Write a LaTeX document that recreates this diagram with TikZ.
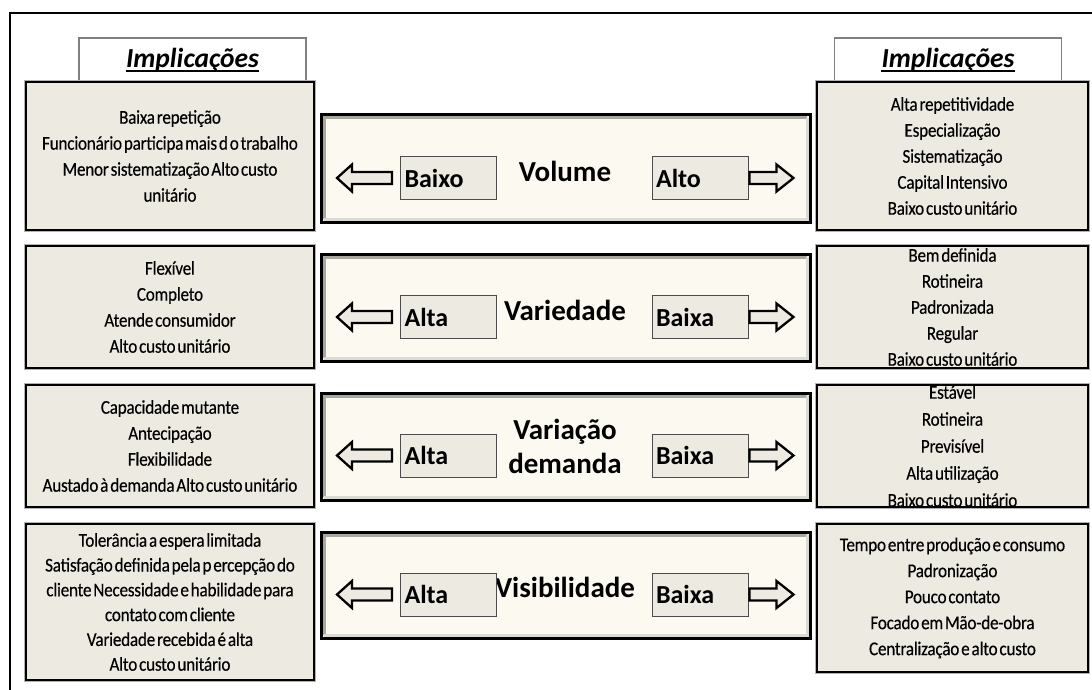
\documentclass[tikz,border=0pt]{standalone}
\usepackage{fontspec}
\setmainfont{Carlito}
\newfontfamily\bodyfont[LetterSpace=-1.2,WordSpace=0.5,FakeStretch=0.88,FakeBold=0.3]{Carlito}
\usetikzlibrary{calc}

\definecolor{sidefill}{HTML}{ECEAE1}
\definecolor{creamfill}{HTML}{FCFAF0}
\definecolor{bevdark}{HTML}{A9A8A0}
\definecolor{bevlight}{HTML}{DCDBD3}
\definecolor{hdrline}{HTML}{7F7F7F}

\tikzset{
  sidebox/.style={draw=black, line width=2.6pt, fill=sidefill,
    preaction={draw=black!30, line width=4.4pt},
    inner sep=0pt, align=center, minimum width=#1,
    font=\bodyfont\fontsize{19.5}{26}\selectfont},
  sidebox/.default=288,
  hdrbox/.style={draw=hdrline, line width=1.2pt, fill=white,
    minimum width=227, minimum height=45, inner sep=0pt},
  hdrtext/.style={inner sep=0pt, anchor=base,
    font=\fontsize{27.5}{32}\selectfont\bfseries\itshape},
  axisbox/.style={draw=black, line width=3pt, fill=creamfill,
    minimum width=489, minimum height=107, inner sep=0pt},
  axislabel/.style={inner sep=0pt, align=center,
    font=\fontsize{29}{34}\selectfont\bfseries},
  levelbox/.style={draw=black!70, line width=1pt, fill=sidefill,
    minimum height=43, text width=88, inner sep=4pt, align=left,
    font=\fontsize{26}{30}\selectfont\bfseries},
  hollow/.style={draw=black, line width=2.3pt, fill=sidefill, line join=miter}
}

\begin{document}
\begin{tikzpicture}[x=1pt,y=-1pt]
\useasboundingbox (0,0) rectangle (1092,690);

% frame around the whole chart
\draw[line width=2pt] (10,690) -- (10,13) -- (1092,13);

% column headers
\node[hdrbox] (hl) at (192.5,60.5) {};
\node[hdrbox] (hr) at (948,60.5) {};
\node[hdrtext] (hlt) at (192.5,68) {Implicações};
\node[hdrtext] (hrt) at (948,68) {Implicações};
\draw[line width=1.6pt] ([yshift=-3]hlt.base west) -- ([yshift=-3]hlt.base east);
\draw[line width=1.6pt] ([yshift=-3]hrt.base west) -- ([yshift=-3]hrt.base east);

% implications on the left (low end of each dimension)
\node[sidebox, minimum height=148] (L1) at (170,156) {Baixa repetição\\
  Funcionário participa mais d o trabalho\\
  Menor sistematização Alto custo\\ unitário};
\node[sidebox, minimum height=122] (L2) at (170,307) {Flexível\\ Completo\\
  Atende consumidor\\ Alto custo unitário};
\node[sidebox, minimum height=122] (L3) at (170,446) {Capacidade mutante\\
  Antecipação\\ Flexibilidade\\ Austado à demanda Alto custo unitário};
\node[sidebox, minimum height=156,
  font=\bodyfont\fontsize{19.5}{24.8}\selectfont] (L4) at (170,602)
  {Tolerância a espera limitada\\
  Satisfação definida pela p ercepção do\\
  cliente Necessidade e habilidade  para\\
  contato com cliente\\ Variedade recebida é alta\\ Alto custo unitário};

% implications on the right (high end of each dimension)
\node[sidebox=271, minimum height=148] (R1) at (952.5,156) {Alta repetitividade\\
  Especialização\\ Sistematização\\ Capital Intensivo\\ Baixo custo unitário};
\node[sidebox=271, minimum height=122] (R2) at (952.5,307) {Bem definida\\
  Rotineira\\ Padronizada\\ Regular\\ Baixo custo unitário};
\node[sidebox=271, minimum height=122,
  font=\bodyfont\fontsize{19.5}{27}\selectfont] (R3) at (952.5,446) {Estável\\
  Rotineira\\ Previsível\\ Alta utilização\\ Baixo custo unitário};
\node[sidebox=271, minimum height=148] (R4) at (952.5,598)
  {Tempo entre produção e consumo\\ Padronização\\ Pouco contato\\
  Focado em Mão-de-obra\\ Centralização e alto custo};

% the four dimensions
\node[axisbox] (A1) at (565.5,168.5) {};
\node[axisbox] (A2) at (565.5,307.5) {};
\node[axisbox] (A3) at (565.5,446.5) {};
\node[axisbox, minimum height=106] (A4) at (565.5,585) {};
\foreach \b in {A1,A2,A3,A4} {
  \draw[bevdark, line width=3pt]
    ($(\b.south west)+(4.5,-4.5)$) |- ($(\b.north east)+(-4.5,4.5)$);
  \draw[bevlight, line width=3pt]
    ($(\b.south west)+(4.5,-4.5)$) -| ($(\b.north east)+(-4.5,4.5)$);
}

\node[axislabel] (t1) at (565,171) {Volume};
\node[axislabel] (t2) at (565,310) {Variedade};
\node[axislabel] (t3) at (565,446) {Variação\\ demanda};
\node[axislabel] (t4) at (565,587) {Visibilidade};

% low / high ends
\node[levelbox] (l1) at (448.5,178) {Baixo};
\node[levelbox] (h1) at (700,178) {Alto};
\node[levelbox] (l2) at (448.5,317) {Alta};
\node[levelbox] (h2) at (700,317) {Baixa};
\node[levelbox] (l3) at (448.5,455.5) {Alta};
\node[levelbox] (h3) at (700,455.5) {Baixa};
\node[levelbox] (l4) at (448.5,594.5) {Alta};
\node[levelbox] (h4) at (700,594.5) {Baixa};

% hollow arrows pointing outwards
\foreach \n in {1,2,3,4} {
  \draw[hollow] ($(l\n.west)+(-8,-6)$) -- ++(-40,0) -- ++(0,-7.5)
    -- ++(-15,13.5) -- ++(15,13.5) -- ++(0,-7.5) -- ++(40,0) -- cycle;
  \draw[hollow] ($(h\n.east)+(1,-6)$) -- ++(27,0) -- ++(0,-7.5)
    -- ++(17,13.5) -- ++(-17,13.5) -- ++(0,-7.5) -- ++(-27,0) -- cycle;
}
\end{tikzpicture}
\end{document}
